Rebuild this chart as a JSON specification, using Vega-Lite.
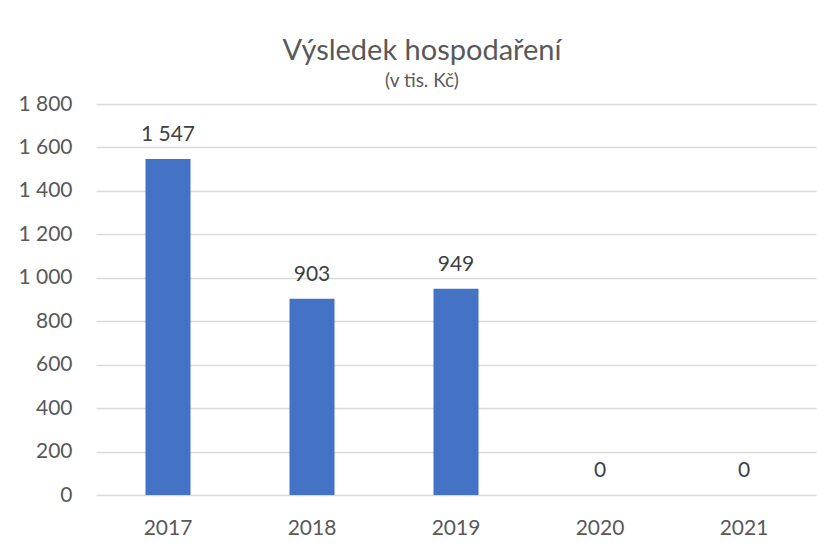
{
  "$schema": "https://vega.github.io/schema/vega-lite/v6.json",
  "width": 720,
  "height": 391,
  "autosize": {"type": "none"},
  "padding": {"left": 96, "top": 104, "right": 8, "bottom": 54},
  "background": "white",
  "title": {
    "text": "Výsledek hospodaření",
    "subtitle": "(v tis. Kč)",
    "font": "Lato",
    "fontSize": 29,
    "fontWeight": "normal",
    "color": "#595959",
    "subtitleFont": "Lato",
    "subtitleFontSize": 19,
    "subtitleColor": "#595959",
    "subtitlePadding": 6,
    "anchor": "middle",
    "frame": "group",
    "dx": -34,
    "offset": 2
  },
  "data": {
    "values": [
      {"year": "2017", "value": 1547},
      {"year": "2018", "value": 903},
      {"year": "2019", "value": 949},
      {"year": "2020", "value": 0},
      {"year": "2021", "value": 0}
    ]
  },
  "encoding": {
    "x": {
      "field": "year",
      "type": "ordinal",
      "title": null,
      "scale": {"paddingInner": 0.6875, "paddingOuter": 0.34375},
      "axis": {
        "labelAngle": 0,
        "domain": false,
        "ticks": false,
        "labelPadding": 22,
        "labelFont": "Lato",
        "labelFontSize": 21,
        "labelColor": "#595959"
      }
    },
    "y": {
      "field": "value",
      "type": "quantitative",
      "title": null,
      "scale": {"domain": [0, 1800], "nice": false},
      "axis": {
        "values": [0, 200, 400, 600, 800, 1000, 1200, 1400, 1600, 1800],
        "format": ",.0f",
        "domain": false,
        "ticks": false,
        "grid": true,
        "gridColor": "#d9d9d9",
        "gridWidth": 1.3,
        "labelPadding": 24,
        "labelFont": "Lato",
        "labelFontSize": 21,
        "labelColor": "#595959"
      }
    }
  },
  "layer": [
    {"mark": {"type": "bar", "color": "#4472C4"}},
    {
      "mark": {
        "type": "text",
        "baseline": "alphabetic",
        "dy": -18,
        "font": "Lato",
        "fontSize": 21,
        "color": "#404040"
      },
      "encoding": {
        "text": {"field": "value", "type": "quantitative", "format": ",.0f"}
      }
    }
  ],
  "config": {
    "view": {"stroke": null},
    "locale": {
      "number": {
        "decimal": ",",
        "thousands": " ",
        "grouping": [3],
        "currency": ["", " Kč"]
      }
    }
  }
}
